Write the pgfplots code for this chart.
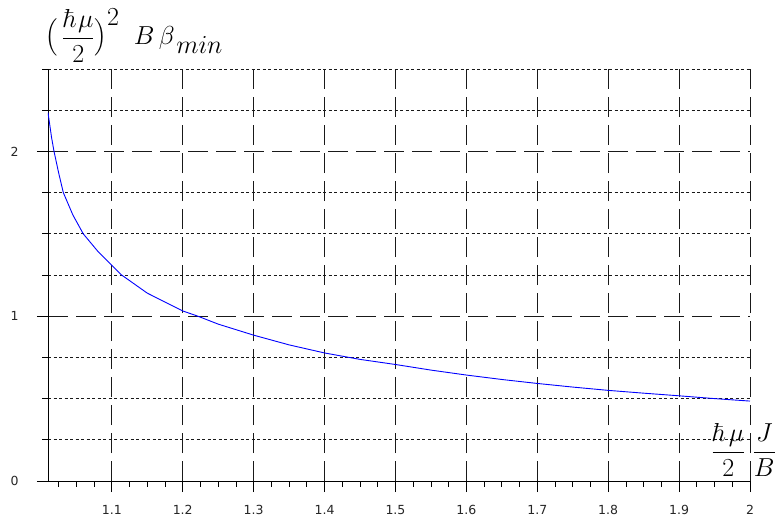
\RequirePackage{fix-cm}
\documentclass[border=0pt]{standalone}
\usepackage[no-math]{fontspec}
\setmainfont{DejaVu Sans}
\usepackage{amsmath}
\usepackage{pgfplots}
\pgfplotsset{compat=1.18}
\pgfplotstableread{
x y
1.01 2.236
1.015 2.085
1.0185 2.000
1.025 1.870
1.0316 1.750
1.045 1.615
1.0597 1.500
1.08 1.395
1.10 1.309
1.1138 1.250
1.15 1.140
1.20 1.032
1.2214 1.000
1.25 0.952
1.30 0.885
1.35 0.826
1.40 0.777
1.45 0.738
1.50 0.707
1.55 0.673
1.60 0.643
1.65 0.616
1.70 0.592
1.75 0.570
1.80 0.550
1.85 0.533
1.90 0.517
1.95 0.500
2.00 0.485
}\curvedata
\newcommand{\tickfont}{\fontsize{12.5}{15}\selectfont}
\newcommand{\bigpar}[1]{\text{\raisebox{2pt}{\fontsize{21}{25}\selectfont$#1$}}}
\begin{document}
\begin{tikzpicture}
\begin{axis}[
  name=ax,
  scale only axis, width=702pt, height=412pt,
  xmin=1.01, xmax=2, ymin=0, ymax=2.5,
  axis x line*=bottom, axis y line*=left,
  axis line style={black, line width=0.9pt, -},
  xtick={1.1,1.2,1.3,1.4,1.5,1.6,1.7,1.8,1.9,2},
  xticklabels={{\tickfont 1.1},{\tickfont 1.2},{\tickfont 1.3},{\tickfont 1.4},{\tickfont 1.5},{\tickfont 1.6},{\tickfont 1.7},{\tickfont 1.8},{\tickfont 1.9},{\tickfont 2}},
  ytick={0,1,2},
  yticklabels={{\tickfont 0},{\tickfont 1},{\tickfont 2}},
  minor xtick={1.025,1.05,1.075,1.125,1.15,1.175,1.225,1.25,1.275,1.325,1.35,1.375,1.425,1.45,1.475,1.525,1.55,1.575,1.625,1.65,1.675,1.725,1.75,1.775,1.825,1.85,1.875,1.925,1.95,1.975},
  minor ytick={0.25,0.5,0.75,1.25,1.5,1.75,2.25,2.5},
  tick align=outside,
  major tick length=11pt, minor tick length=5.5pt,
  tick style={black, line width=0.8pt},
  xmajorgrids=true, ymajorgrids=true, yminorgrids=true, xminorgrids=false,
  major grid style={black!90, line width=0.9pt, dash pattern=on 20pt off 8pt},
  minor grid style={black!90, line width=0.9pt, dash pattern=on 3pt off 2.5pt},
  tick label style={font=\tickfont, text=black!85},
  xticklabel style={anchor=base, yshift=-22pt},
  yticklabel style={anchor=east, xshift=-15pt},
  every axis x label/.style={at={(axis description cs:1,0)}, anchor=south east, xshift=26pt, yshift=4pt, inner sep=0pt, font=\fontsize{26}{30}\selectfont},
  xlabel={$\dfrac{\hbar\mkern2mu\mu}{2}\mkern5mu\dfrac{J}{B}$},
]
\addplot[blue, line width=0.9pt] table[x=x, y=y] {\curvedata};
\end{axis}
\node[anchor=base west, inner sep=0pt, font=\fontsize{26}{30}\selectfont] at ([shift={(-3pt,24pt)}]ax.north west)
  {$\mathopen{\bigpar{\Bigl(}}\mkern3mu\dfrac{\hbar\mkern1mu\mu}{2}\mathclose{\bigpar{\Bigr)}}^{\textstyle 2}\mkern10mu B\mkern3mu\beta_{\mkern3mu\textstyle min}$};
\pgfresetboundingbox
\useasboundingbox ([shift={(-48pt,-36pt)}]ax.south west) rectangle ([shift={(26pt,69pt)}]ax.north east);
\end{tikzpicture}
\end{document}
